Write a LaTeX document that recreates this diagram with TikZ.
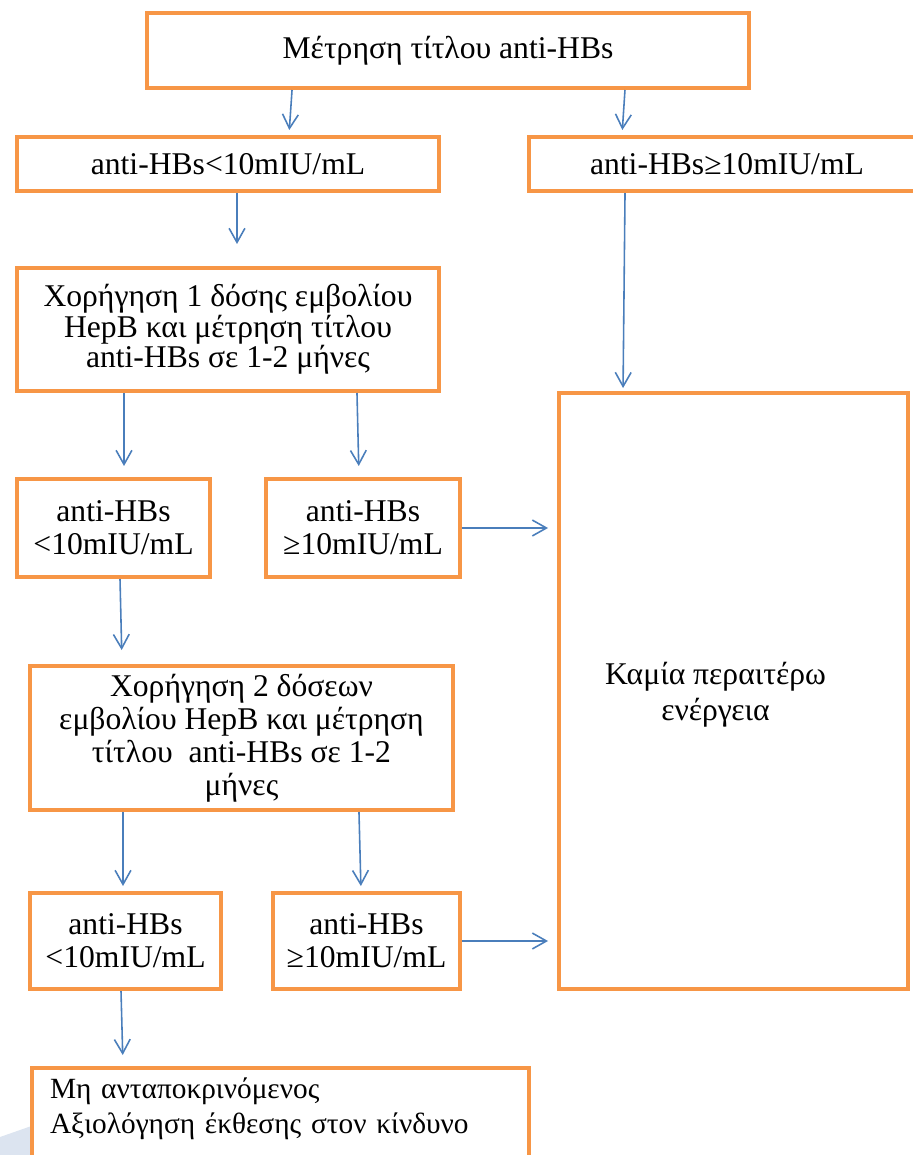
\documentclass[tikz,border=0pt]{standalone}
\usepackage{fontspec}
\setmainfont{Liberation Serif}
\usetikzlibrary{arrows.meta, calc}
\definecolor{boxorange}{HTML}{F79646}
\definecolor{arrowblue}{HTML}{4A7EBB}
\definecolor{shadeblue}{HTML}{DCE4F0}

\begin{document}
\begin{tikzpicture}[x=0.02cm, y=-0.02cm,
    box/.style={draw=boxorange, line width=2.3pt, fill=white, align=center, inner sep=2pt, font=\fontsize{18}{18.7}\selectfont},
    arr/.style={draw=arrowblue, line width=0.9pt, -{Straight Barb[length=8pt,width=9pt]}}]

    \useasboundingbox (0,0) rectangle (912,1155);

    % faint band in the lower left corner
    \fill[shadeblue] (0,1137) -- (40,1123) -- (40,1155) -- (0,1155) -- cycle;

    % first measurement
    \node[box, minimum width=12.04cm, minimum height=1.5cm] (meas) at (448,50.5) {Μέτρηση τίτλου anti-HBs};
    \node[box, minimum width=8.44cm, minimum height=1.08cm] (low1) at (228,164) {anti-HBs<10mIU/mL};
    \node[box, minimum width=7.92cm, minimum height=1.08cm] (high1) at (727,164) {anti-HBs≥10mIU/mL};

    % one dose
    \node[box, minimum width=8.44cm, minimum height=2.46cm, font=\fontsize{18}{17.3}\selectfont] (dose1) at (228,329.5) {Χορήγηση 1 δόσης εμβολίου\\ΗepB και μέτρηση τίτλου\\anti-HBs σε 1-2 μήνες};
    \node[box, minimum width=3.86cm, minimum height=1.96cm] (low2) at (113.5,528) {anti-HBs\\<10mIU/mL};
    \node[box, minimum width=3.88cm, minimum height=1.96cm] (high2) at (363,528) {anti-HBs\\≥10mIU/mL};

    % nothing more to do
    \node[box, minimum width=6.98cm, minimum height=11.92cm, font=\fontsize{18}{20.4}\selectfont, text depth=-0.1cm] (none) at (733.5,691) {Καμία περαιτέρω\hspace*{0.72cm}\\ενέργεια\hspace*{0.72cm}};

    % two doses
    \node[box, minimum width=8.46cm, minimum height=2.88cm] (dose2) at (241.5,738) {Χορήγηση 2 δόσεων\\εμβολίου HepB και μέτρηση\\τίτλου \ anti-HBs σε 1-2\\μήνες};
    \node[box, minimum width=3.82cm, minimum height=1.92cm] (low3) at (125.5,941) {anti-HBs\\<10mIU/mL};
    \node[box, minimum width=3.74cm, minimum height=1.92cm] (high3) at (366.5,941) {anti-HBs\\≥10mIU/mL};

    % non responder
    \node[box, align=left, anchor=north west, text width=9.22cm, inner xsep=0.36cm, inner ysep=0.2cm, text depth=1.4cm, font=\fontsize{16.7}{19.8}\selectfont] (nonresp) at (30,1066) {Μη ανταποκρινόμενος\\Αξιολόγηση έκθεσης στον κίνδυνο};

    % arrows
    \draw[arr, shorten >=0.1cm] ([xshift=-3.12cm]meas.south) -- ([xshift=1.22cm]low1.north);
    \draw[arr, shorten >=0.1cm] ([xshift=3.54cm]meas.south) -- ([xshift=-2.1cm]high1.north);
    \draw[arr, shorten >=0.44cm] ([xshift=0.18cm]low1.south) -- ([xshift=0.18cm]dose1.north);
    \draw[arr, shorten >=0.06cm] ([xshift=-2.04cm]high1.south) -- ([xshift=-2.21cm]none.north);
    \draw[arr, shorten >=0.22cm] ([xshift=-2.08cm]dose1.south) -- ([xshift=0.21cm]low2.north);
    \draw[arr, shorten >=0.22cm] ([xshift=2.58cm]dose1.south) -- ([xshift=-0.08cm]high2.north);
    \draw[arr, shorten >=0.18cm] (high2.east) -- (high2.east -| none.west);
    \draw[arr, shorten >=0.28cm] ([xshift=0.13cm]low2.south) -- ([xshift=-2.39cm]dose2.north);
    \draw[arr, shorten >=0.1cm] ([xshift=-2.37cm]dose2.south) -- ([xshift=-0.05cm]low3.north);
    \draw[arr, shorten >=0.1cm] ([xshift=2.35cm]dose2.south) -- ([xshift=-0.11cm]high3.north);
    \draw[arr, shorten >=0.18cm] (high3.east) -- (high3.east -| none.west);
    \draw[arr, shorten >=0.22cm] ([xshift=-0.09cm]low3.south) -- ([xshift=-3.15cm]nonresp.north);

\end{tikzpicture}
\end{document}
